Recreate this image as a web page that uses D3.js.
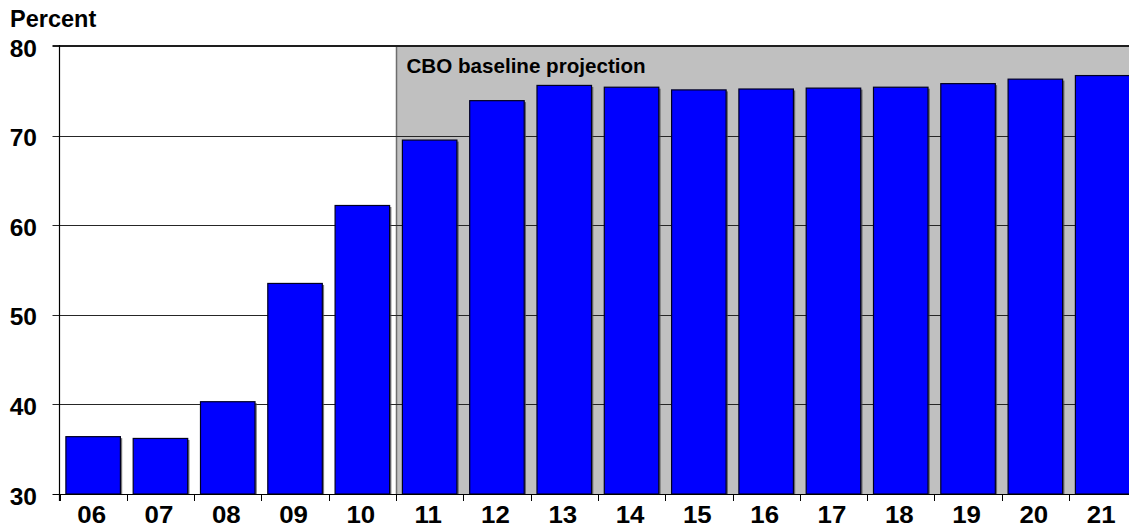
<!DOCTYPE html>
<html>
<head>
<meta charset="utf-8">
<script src="https://cdn.jsdelivr.net/npm/d3@7"></script>
<style>
  html, body { margin: 0; padding: 0; background: #ffffff; }
  svg { display: block; }
  text { font-family: "Liberation Sans", Arial, Helvetica, sans-serif; font-weight: bold; fill: #000; }
</style>
</head>
<body>
<svg id="chart" width="1129" height="528"></svg>
<script>
// Fiscal years (two-digit) and debt held by the public, percent of GDP
const years = ["06", "07", "08", "09", "10", "11", "12", "13", "14", "15", "16", "17", "18", "19", "20", "21"];
const percent = [36.4, 36.2, 40.3, 53.5, 62.2, 69.5, 73.9, 75.6, 75.4, 75.1, 75.2, 75.3, 75.4, 75.8, 76.3, 76.7];
const yTicks = [30, 40, 50, 60, 70, 80];
const projectionStart = "11";
const projectionLabel = "CBO baseline projection";
const unitLabel = "Percent";

const svg = d3.select("#chart");
const W = 1129, H = 528;

const plotLeft = 59.5, plotTop = 46, plotBottom = 494;
const step = 67.3;
const plotRight = plotLeft + step * years.length;

const x = d3.scaleBand()
  .domain(years)
  .range([plotLeft, plotRight])
  .paddingInner(0.19)
  .paddingOuter(0.095);

const y = d3.scaleLinear().domain([30, 80]).range([plotBottom, plotTop]);

const bandStart = d => x(d) - x.step() * x.paddingOuter();
const crisp = v => Math.round(v) + 0.5;

// Shaded projection period
const projX = crisp(bandStart(projectionStart));
svg.append("rect")
  .attr("x", projX)
  .attr("y", plotTop)
  .attr("width", W - projX + 10)
  .attr("height", plotBottom - plotTop)
  .attr("fill", "#c0c0c0");
svg.append("line")
  .attr("x1", projX).attr("x2", projX)
  .attr("y1", plotTop).attr("y2", plotBottom)
  .attr("stroke", "#6e6e6e")
  .attr("stroke-width", 1.5);

// Horizontal gridlines, each with a short outward tick
svg.append("g").selectAll("line")
  .data(yTicks)
  .join("line")
  .attr("x1", plotLeft - 7)
  .attr("x2", W + 10)
  .attr("y1", d => d === 80 ? y(d) : crisp(y(d)))
  .attr("y2", d => d === 80 ? y(d) : crisp(y(d)))
  .attr("stroke", d => d === 80 ? "#1e1e1e" : (d === 30 ? "#000" : "#262626"))
  .attr("stroke-width", d => d === 80 ? 2 : 1);

// Tick labels on the value axis
svg.append("g").selectAll("text")
  .data(yTicks)
  .join("text")
  .attr("x", 37)
  .attr("y", d => y(d) + 10.6)
  .attr("text-anchor", "end")
  .style("font-size", "24.5px")
  .text(d => d);

// Bar shadows
svg.append("g").selectAll("rect")
  .data(years)
  .join("rect")
  .attr("x", d => x(d) + 1.8)
  .attr("y", (d, i) => y(percent[i]) + 1.5)
  .attr("width", x.bandwidth())
  .attr("height", (d, i) => plotBottom - y(percent[i]) - 1.5)
  .attr("fill", "#4a4a4a")
  .attr("opacity", 0.75);

// Bars
svg.append("g").selectAll("rect")
  .data(years)
  .join("rect")
  .attr("x", d => x(d))
  .attr("y", (d, i) => y(percent[i]))
  .attr("width", x.bandwidth())
  .attr("height", (d, i) => plotBottom - y(percent[i]))
  .attr("fill", "#0000ff")
  .attr("stroke", "#000022")
  .attr("stroke-width", 1.2);

// Category axis: ticks at band boundaries, labels centred in bands
const gx = svg.append("g");
gx.append("line")
  .attr("x1", plotLeft).attr("x2", W + 10)
  .attr("y1", plotBottom + 0.5).attr("y2", plotBottom + 0.5)
  .attr("stroke", "#000").attr("stroke-width", 1.2);
gx.selectAll("line.tk")
  .data(years)
  .join("line")
  .attr("class", "tk")
  .attr("x1", d => crisp(bandStart(d)))
  .attr("x2", d => crisp(bandStart(d)))
  .attr("y1", plotBottom)
  .attr("y2", plotBottom + 7)
  .attr("stroke", "#000");
gx.selectAll("text")
  .data(years)
  .join("text")
  .attr("transform", d => `translate(${x(d) + x.bandwidth() / 2 - 1.5},523) scale(1.1,1)`)
  .attr("text-anchor", "middle")
  .style("font-size", "23.5px")
  .text(d => d);

// Left axis line
svg.append("line")
  .attr("x1", plotLeft).attr("x2", plotLeft)
  .attr("y1", plotTop - 1).attr("y2", plotBottom + 7)
  .attr("stroke", "#000").attr("stroke-width", 1.2);

// Labels
svg.append("text")
  .attr("x", projX + 10)
  .attr("y", 73)
  .style("font-size", "20.6px")
  .text(projectionLabel);

svg.append("text")
  .attr("x", 10)
  .attr("y", 26.7)
  .style("font-size", "23.5px")
  .text(unitLabel);
</script>
</body>
</html>
